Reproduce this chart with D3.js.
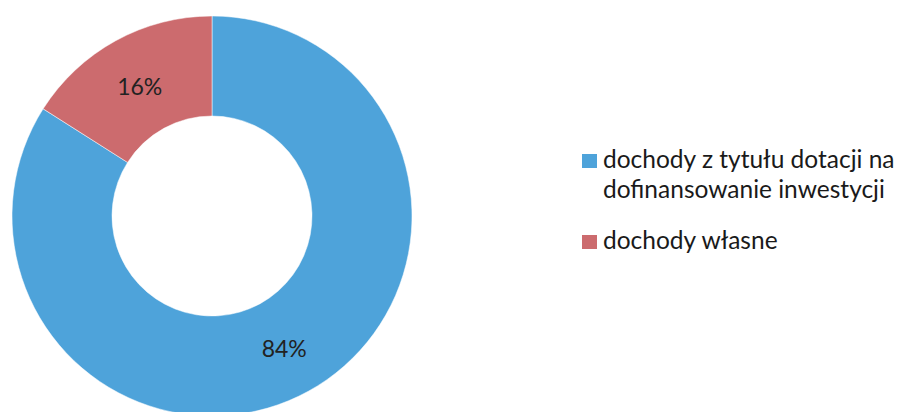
<!DOCTYPE html>
<html>
<head>
<meta charset="utf-8">
<script src="https://cdn.jsdelivr.net/npm/d3@7"></script>
<style>
  html, body { margin: 0; padding: 0; background: #fff; }
  svg { display: block; }
</style>
</head>
<body>
<div id="chart"></div>
<script>
// data
const categories = ["dochody z tytułu dotacji na dofinansowanie inwestycji", "dochody własne"];
const legendLines = [["dochody z tytułu dotacji na", "dofinansowanie inwestycji"], ["dochody własne"]];
const values = [84, 16];
const colors = ["#4ea3da", "#cc6b6e"];

const width = 903, height = 412;
const cx = 212, cy = 216;
const outerR = 200, innerR = 100;

const svg = d3.select("#chart")
  .append("svg")
  .attr("width", width)
  .attr("height", height);

const data = categories.map((c, i) => ({ name: c, value: values[i], color: colors[i] }));

const pie = d3.pie()
  .value(d => d.value)
  .sort(null);

const arc = d3.arc()
  .innerRadius(innerR)
  .outerRadius(outerR);

const g = svg.append("g")
  .attr("transform", `translate(${cx},${cy})`);

const arcs = pie(data);

g.selectAll("path")
  .data(arcs)
  .enter()
  .append("path")
  .attr("d", arc)
  .attr("fill", d => d.data.color)
  .attr("stroke", "#fff")
  .attr("stroke-width", 0.5);

// percent labels
g.selectAll(".pct")
  .data(arcs)
  .enter()
  .append("text")
  .attr("class", "pct")
  .attr("x", d => arc.centroid(d)[0])
  .attr("y", d => arc.centroid(d)[1] + 2)
  .attr("dy", "0.35em")
  .attr("text-anchor", "middle")
  .attr("font-family", "Lato, 'Open Sans', sans-serif")
  .attr("font-size", 23)
  .attr("fill", "#222")
  .text(d => d.data.value + "%");

// legend
const legend = svg.append("g")
  .attr("transform", "translate(582,0)");

const rowY = [168, 249];
const lineH = 30;

legendLines.forEach((lines, i) => {
  const row = legend.append("g");
  row.append("rect")
    .attr("x", 0)
    .attr("y", rowY[i] - 14)
    .attr("width", 15)
    .attr("height", 14)
    .attr("fill", colors[i]);
  const t = row.append("text")
    .attr("x", 21)
    .attr("y", rowY[i])
    .attr("font-family", "Lato, 'Open Sans', sans-serif")
    .attr("font-size", 24.5)
    .attr("fill", "#1a1a1a");
  lines.forEach((ln, j) => {
    t.append("tspan")
      .attr("x", 21)
      .attr("dy", j === 0 ? 0 : lineH)
      .text(ln);
  });
});
</script>
</body>
</html>
